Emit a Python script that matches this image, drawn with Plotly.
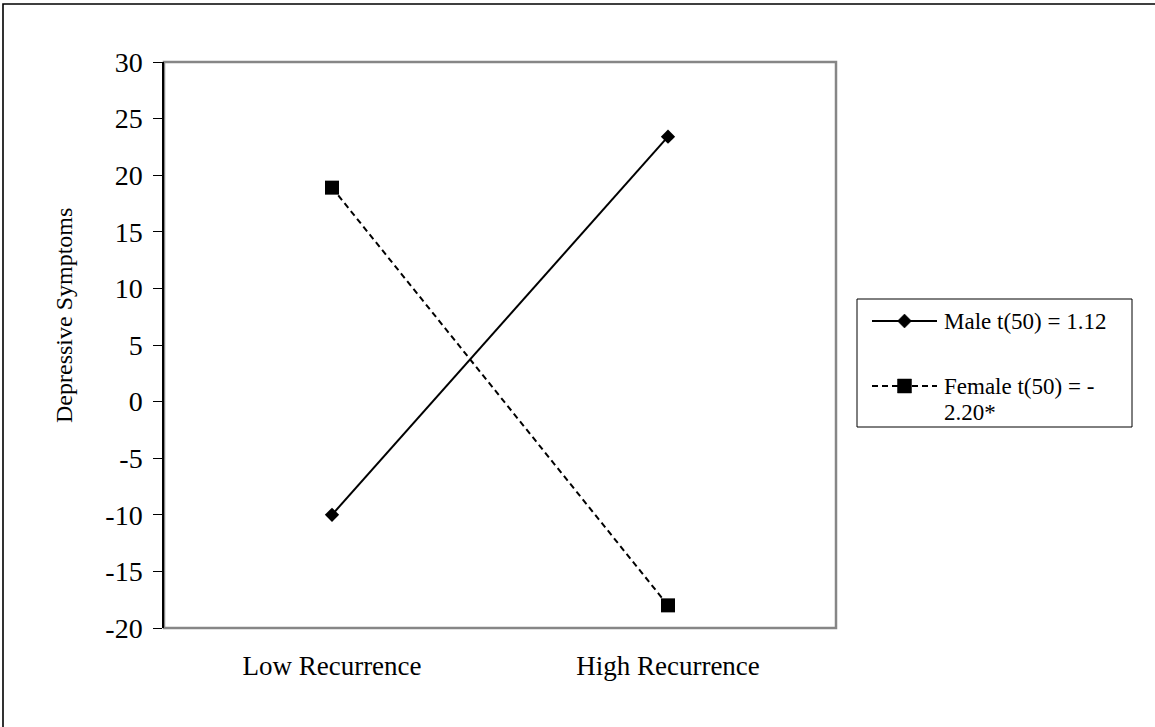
import plotly.graph_objects as go

# Data
categories = ["Low Recurrence", "High Recurrence"]
male_values = [-10.0, 23.4]
female_values = [18.9, -18.0]
male_label = "Male t(50) = 1.12"
female_label = "Female t(50) = -"
female_label_wrap = "2.20*"
y_title = "Depressive Symptoms"
y_ticks = [-20, -15, -10, -5, 0, 5, 10, 15, 20, 25, 30]
y_tick_text = [str(v) for v in y_ticks]

SERIF = "Liberation Serif, Times New Roman, serif"
GRAY = "#868686"

W, H = 1155, 727
L, R, T, B = 164, 836, 62, 628  # plot area in pixels


def px(x):
    return (x - L) / (R - L)


def py(y):
    return (B - y) / (B - T)


fig = go.Figure()

fig.add_trace(go.Scatter(
    x=categories, y=male_values, name=male_label, mode="lines+markers",
    line=dict(color="black", width=2),
    marker=dict(symbol="diamond", size=11, color="black"),
    showlegend=False,
))
fig.add_trace(go.Scatter(
    x=categories, y=female_values, name=female_label + " " + female_label_wrap,
    mode="lines+markers",
    line=dict(color="black", width=2, dash="6px,4px"),
    marker=dict(symbol="square", size=14, color="black"),
    showlegend=False,
))

shapes = []
# outer chart border
shapes.append(dict(type="rect", xref="paper", yref="paper",
                   x0=px(3), x1=px(1175), y0=py(750), y1=py(4),
                   line=dict(color="black", width=1.6), layer="below"))
# plot area frame
shapes.append(dict(type="rect", xref="paper", yref="paper",
                   x0=0, x1=1, y0=0, y1=1,
                   line=dict(color=GRAY, width=2.5), layer="below"))

# legend box
lx0, lx1, ly0, ly1 = 857, 1132, 299, 427
shapes.append(dict(type="rect", xref="paper", yref="paper",
                   x0=px(lx0), x1=px(lx1), y0=py(ly1), y1=py(ly0),
                   line=dict(color="black", width=1)))

LEG_FONT = dict(family=SERIF, size=23, color="black")
LINE_GAP = 26
rows = [(321, False, "diamond", [male_label]),
        (386, True, "square", [female_label, female_label_wrap])]
annotations = []
for ry, dashed, sym, lines in rows:
    shapes.append(dict(type="line", xref="paper", yref="paper",
                       x0=px(872), x1=px(937), y0=py(ry), y1=py(ry),
                       line=dict(color="black", width=2.2,
                                 dash="6px,4px" if dashed else "solid")))
    cx = 904.5
    r = 7
    if sym == "diamond":
        path = (f"M {px(cx)},{py(ry - r)} L {px(cx + r)},{py(ry)} "
                f"L {px(cx)},{py(ry + r)} L {px(cx - r)},{py(ry)} Z")
        shapes.append(dict(type="path", xref="paper", yref="paper", path=path,
                           fillcolor="black", line=dict(color="black", width=0.5)))
    else:
        shapes.append(dict(type="rect", xref="paper", yref="paper",
                           x0=px(cx - r), x1=px(cx + r), y0=py(ry + r), y1=py(ry - r),
                           fillcolor="black", line=dict(color="black", width=0.5)))
    for k, txt in enumerate(lines):
        annotations.append(dict(xref="paper", yref="paper", x=px(943),
                                y=py(ry + LINE_GAP * k), xanchor="left",
                                yanchor="middle", borderpad=0,
                                text=txt, showarrow=False, font=LEG_FONT))

# y axis title
annotations.append(dict(xref="paper", yref="paper", x=px(64), y=py(316),
                        xanchor="center", yanchor="middle", textangle=-90,
                        text=y_title, showarrow=False,
                        font=dict(family=SERIF, size=24, color="black")))

fig.update_layout(
    width=W, height=H,
    margin=dict(l=L, r=W - R, t=T, b=H - B, pad=0),
    paper_bgcolor="white", plot_bgcolor="white",
    shapes=shapes, annotations=annotations,
    xaxis=dict(type="category", range=[-0.5, 1.5], showgrid=False,
               zeroline=False, showline=False, ticks="",
               tickfont=dict(family=SERIF, size=27, color="black"),
               ticklabelstandoff=19),
    yaxis=dict(range=[-20, 30], tickvals=y_ticks, ticktext=y_tick_text,
               showgrid=False, zeroline=False, showline=True,
               linecolor="black", linewidth=1.5,
               ticks="outside", ticklen=9, tickcolor="black", tickwidth=1,
               tickfont=dict(family=SERIF, size=28, color="black"),
               ticklabelstandoff=5),
)

fig.write_html("out.html")
